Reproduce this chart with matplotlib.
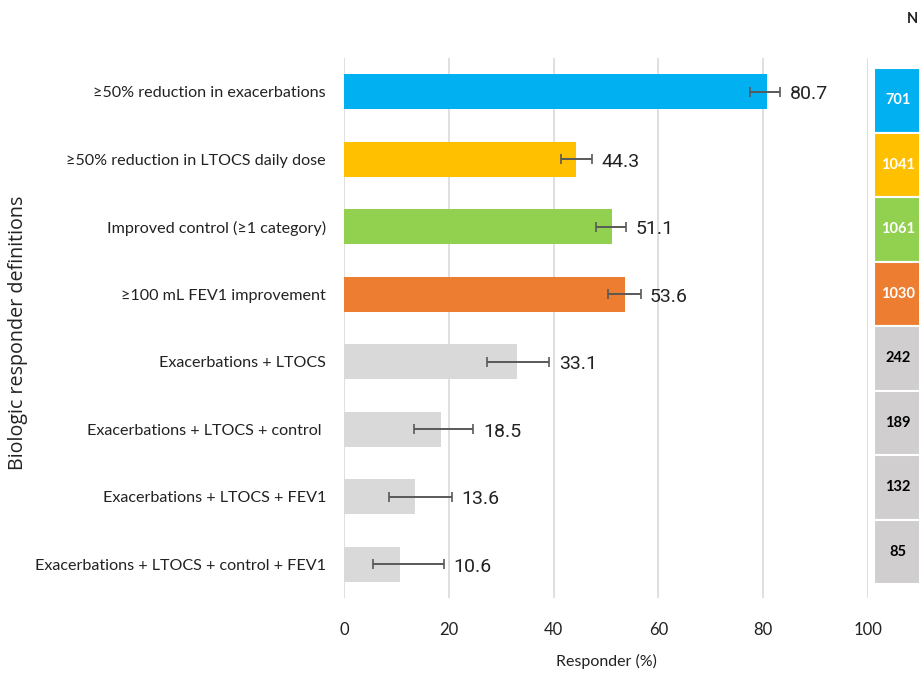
import numpy as np
import matplotlib
matplotlib.use("Agg")
import matplotlib.pyplot as plt
from matplotlib.patches import Rectangle

# chart data
categories = [
    "\u226550% reduction in exacerbations",
    "\u226550% reduction in LTOCS daily dose",
    "Improved control (\u22651 category)",
    "\u2265100 mL FEV1 improvement",
    "Exacerbations + LTOCS",
    "Exacerbations + LTOCS + control ",
    "Exacerbations + LTOCS + FEV1",
    "Exacerbations + LTOCS + control + FEV1",
]
responder_pct = [80.7, 44.3, 51.1, 53.6, 33.1, 18.5, 13.6, 10.6]
ci_low = [77.5, 41.4, 48.0, 50.3, 27.2, 13.4, 8.6, 5.5]
ci_high = [83.3, 47.3, 53.9, 56.6, 39.2, 24.7, 20.6, 19.1]
n_patients = [701, 1041, 1061, 1030, 242, 189, 132, 85]
bar_colors = ["#00B0F0", "#FFC000", "#92D050", "#ED7D31",
              "#D9D9D9", "#D9D9D9", "#D9D9D9", "#D9D9D9"]
box_colors = ["#00B0F0", "#FFC000", "#92D050", "#ED7D31",
              "#D0CECE", "#D0CECE", "#D0CECE", "#D0CECE"]
n_text_colors = ["white"] * 4 + ["black"] * 4
x_ticks = [0, 20, 40, 60, 80, 100]

label_font = "Lato"
value_font = ["Roboto", "DejaVu Sans"]

fig = plt.figure(figsize=(9.2, 6.75), dpi=100)
ax = fig.add_axes([344 / 920, 1 - 598 / 675, 524 / 920, 540 / 675])

y = np.arange(len(categories))
vals = np.array(responder_pct)
err = np.array([vals - np.array(ci_low), np.array(ci_high) - vals])

ax.barh(y, vals, height=0.52, color=bar_colors, zorder=2)
ax.errorbar(vals, y, xerr=err, fmt="none", ecolor="#595959",
            elinewidth=1.4, capsize=3.5, capthick=1.2, zorder=3)

for yi, v, hi in zip(y, responder_pct, ci_high):
    ax.text(hi + 1.8, yi + 0.04, f"{v:.1f}", va="center", ha="left",
            fontsize=14, family=value_font, color="#222222")

ax.set_xlim(0, 100)
ax.set_ylim(len(categories) - 0.5, -0.5)
ax.set_yticks(y)
ax.set_yticklabels(categories, family=label_font, fontsize=11.6, color="#222222")
ax.set_xticks(x_ticks)
ax.set_xticklabels([str(t) for t in x_ticks], family=label_font, fontsize=12,
                   color="#222222")
ax.tick_params(axis="both", length=0)
ax.tick_params(axis="y", pad=13)
ax.tick_params(axis="x", pad=17)
ax.grid(axis="x", color="#D9D9D9", linewidth=1.2, zorder=0)
for s in ax.spines.values():
    s.set_visible(False)

ax.set_xlabel("Responder (%)", family=label_font, fontsize=11.5,
              color="#222222", labelpad=12)
fig.text(18 / 920, 1 - 333 / 675, "Biologic responder definitions",
         rotation=90, va="center", ha="center", family="Open Sans",
         fontsize=14.2, color="#222222")

# N column
nax = fig.add_axes([874 / 920, 1 - 584 / 675, 60 / 920, 516 / 675])
nax.set_xlim(0, 1)
nax.set_ylim(len(n_patients), 0)
nax.axis("off")
for i, (n, c, tc) in enumerate(zip(n_patients, box_colors, n_text_colors)):
    nax.add_patch(Rectangle((0, i), 1, 1, facecolor=c, edgecolor="white",
                            linewidth=1.5))
    nax.text(24 / 60, i + 0.5, str(n), ha="center", va="center",
             fontsize=10.5, fontweight="bold", family=label_font, color=tc)
fig.text(912 / 920, 1 - 19 / 675, "N", ha="center", va="center",
         fontsize=10.5, fontweight="bold", family=label_font, color="#222222")

fig.savefig("out.png", dpi=100)
